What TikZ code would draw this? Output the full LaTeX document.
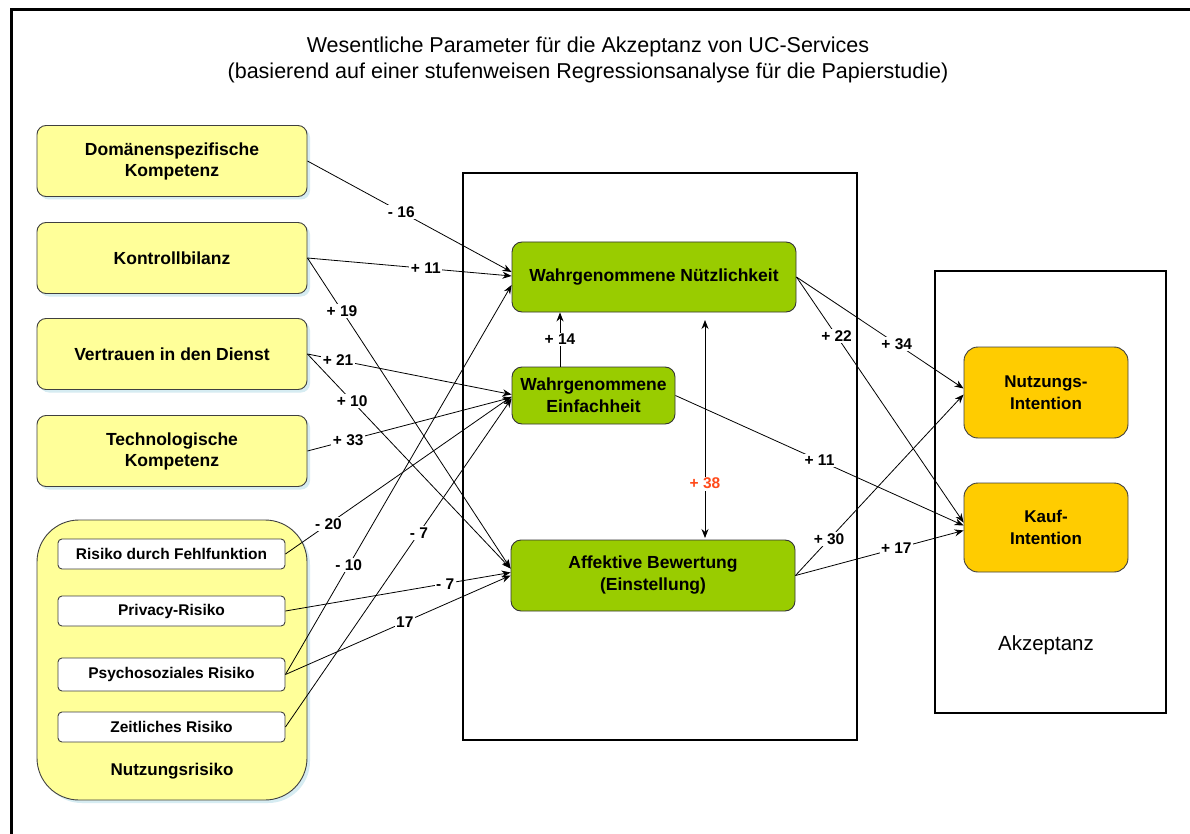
\documentclass[tikz,border=0pt]{standalone}
\usepackage{fontspec}
\setmainfont{Liberation Sans}
\usetikzlibrary{arrows.meta,shadows}
\definecolor{yel}{HTML}{FFFF99}
\definecolor{grn}{HTML}{99CC00}
\definecolor{org}{HTML}{FFCC00}
\definecolor{shd}{HTML}{D6ECF2}
\definecolor{redl}{HTML}{FF4A1A}
\begin{document}
\begin{tikzpicture}[x=1pt,y=-1pt,
  ybox/.style={draw=black!75, line width=0.9pt, fill=yel, rounded corners=9pt,
    minimum width=270pt, minimum height=71pt, align=center, inner sep=2pt,
    font=\bfseries\fontsize{17.5}{21}\selectfont,
    drop shadow={shadow xshift=3pt,shadow yshift=-3pt,fill=shd,opacity=1}},
  sbox/.style={draw=black!75, line width=0.9pt, fill=white, rounded corners=4pt,
    minimum width=227pt, minimum height=30pt, inner sep=1pt,
    font=\bfseries\fontsize{15.5}{18}\selectfont},
  gbox/.style={draw=black!80, line width=0.9pt, fill=grn, rounded corners=10pt,
    align=center, inner sep=2pt, font=\bfseries\fontsize{17.5}{22}\selectfont},
  obox/.style={draw=black!75, line width=0.9pt, fill=org, rounded corners=14pt,
    minimum width=164pt, align=center, inner sep=2pt,
    font=\bfseries\fontsize{17}{22}\selectfont},
  frm/.style={draw=black, line width=1.8pt, inner sep=0pt},
  conn/.style={line width=0.8pt, -{Stealth[length=9pt,width=7pt]}},
  lbl/.style={fill=white, inner sep=1.5pt, font=\bfseries\fontsize{15.5}{17}\selectfont},
  ttl/.style={align=center, font=\fontsize{21.5}{26}\selectfont}
]
\useasboundingbox (0,0) rectangle (1190,834);
\fill[white] (0,0) rectangle (1190,834);
\draw[line width=3pt] (11,834) -- (11,10) -- (1190,10);

\node[ttl] (title) at (588,60) {Wesentliche Parameter für die Akzeptanz von UC-Services\\(basierend auf einer stufenweisen Regressionsanalyse für die Papierstudie)};

% frames
\node[frm, minimum width=394pt, minimum height=567pt] (mid) at (660,456.5) {};
\node[frm, minimum width=231pt, minimum height=442pt] (right) at (1050.5,492) {};
\node[font=\fontsize{20.5}{24}\selectfont] (akz) at (1046,645) {Akzeptanz};

% left boxes
\node[ybox] (dom) at (172,161) {Domänenspezifische\\Kompetenz};
\node[ybox] (kon) at (172,258) {Kontrollbilanz};
\node[ybox] (ver) at (172,354) {Vertrauen in den Dienst};
\node[ybox] (tech) at (172,451) {Technologische\\Kompetenz};
\node[ybox, minimum height=280pt, rounded corners=42pt] (rg) at (172,660) {};
\node[font=\bfseries\fontsize{17}{20}\selectfont] (rgl) at (172,771) {Nutzungsrisiko};
\node[sbox] (fehl) at (171.5,554) {Risiko durch Fehlfunktion};
\node[sbox] (priv) at (171.5,611) {Privacy-Risiko};
\node[sbox, minimum height=33pt] (psy) at (171.5,674.5) {Psychosoziales Risiko};
\node[sbox] (zeit) at (171.5,727) {Zeitliches Risiko};

% green boxes
\node[gbox, minimum width=284pt, minimum height=70pt] (nutz) at (654,277) {Wahrgenommene Nützlichkeit};
\node[gbox, minimum width=163pt, minimum height=57pt] (einf) at (593.5,395.5) {Wahrgenommene\\Einfachheit};
\node[gbox, minimum width=284pt, minimum height=71pt] (aff) at (653,575.5) {Affektive Bewertung\\(Einstellung)};

% orange boxes
\node[obox, minimum height=91pt] (nint) at (1046,392.5) {Nutzungs-\\Intention};
\node[obox, minimum height=89pt] (kint) at (1046,527.5) {Kauf-\\Intention};

% connectors left
\draw[conn] (dom.east) -- node[lbl,pos=0.46]{- 16} ([yshift=5pt]nutz.west);
\draw[conn] (kon.east) -- node[lbl,pos=0.58]{+ 11} ([yshift=1pt]nutz.west);
\draw[conn] (kon.east) -- node[lbl,pos=0.17]{+ 19} ([yshift=7pt]aff.west);
\draw[conn] (ver.east) -- node[lbl,pos=0.15]{+ 21} ([yshift=1pt]einf.west);
\draw[conn] (ver.east) -- node[lbl,pos=0.22]{+ 10} ([yshift=7pt]aff.west);
\draw[conn] (tech.east) -- node[lbl,pos=0.2]{+ 33} ([yshift=-2pt]einf.west);
\draw[conn] (fehl.east) -- node[lbl,pos=0.19]{- 20} ([yshift=-1pt]einf.west);
\draw[conn] (psy.east) -- node[lbl,pos=0.28]{- 10} ([yshift=-8pt]nutz.west);
\draw[conn] (zeit.east) -- node[lbl,pos=0.59]{- 7} ([yshift=-3pt]einf.west);
\draw[conn] (priv.east) -- node[lbl,pos=0.71]{- 7} ([yshift=3pt]aff.west);
\draw[conn] (psy.east) -- node[lbl,pos=0.53]{17} (aff.west);

% middle
\draw[conn] ([xshift=-33.5pt]einf.north) -- node[lbl,pos=0.5]{+ 14} ([xshift=-33.5pt]einf.north |- nutz.south);
\coordinate (d1) at (705,320);
\coordinate (d2) at (705,538);
\draw[line width=0.8pt, {Stealth[length=9pt,width=7pt]}-{Stealth[length=9pt,width=7pt]}] (d1) -- node[lbl,text=redl,pos=0.75]{+ 38} (d2);

% connectors right
\draw[conn] (nutz.east) -- node[lbl,pos=0.6]{+ 34} ([yshift=4pt]nint.west);
\draw[conn] (nutz.east) -- node[lbl,pos=0.24]{+ 22} ([yshift=5pt]kint.west);
\draw[conn] (einf.east) -- node[lbl,pos=0.5]{+ 11} ([yshift=2pt]kint.west);
\draw[conn] (aff.east) -- node[lbl,pos=0.2]{+ 30} ([yshift=-2pt]nint.west);
\draw[conn] (aff.east) -- node[lbl,pos=0.6]{+ 17} ([yshift=-3pt]kint.west);
\end{tikzpicture}
\end{document}
